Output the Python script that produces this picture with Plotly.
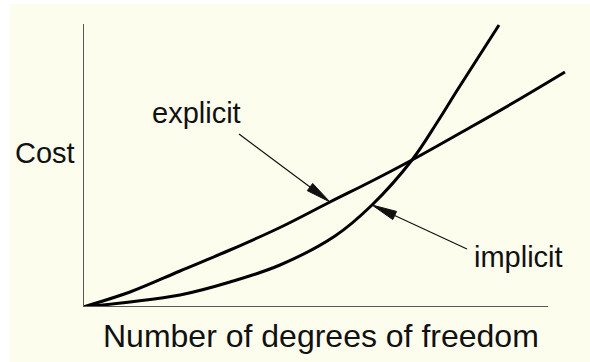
import math
import plotly.graph_objects as go

# ---- data ----
dof_explicit = [0, 4.7, 9.7, 14.7, 19.7, 24.7, 28.9, 32.9, 38.7, 43.5, 48.2]
cost_explicit = [0, 1.5, 3.6, 5.7, 7.95, 10.5, 12.6, 14.7, 17.95, 20.7, 23.5]
dof_implicit = [0, 4.7, 9.7, 14.7, 19.7, 25.2, 28.9, 32.9, 35.5, 37.5, 41.6]
cost_implicit = [0, 0.5, 1.2, 2.5, 4.2, 7.1, 10.2, 14.7, 18.6, 21.8, 28.2]

labels = ["explicit", "implicit"]
label_pos = [(11.3, 19.4), (43.5, 5.0)]
arrow_tail = [(15.6, 17.3), (38.4, 5.8)]
arrow_tip = [(24.7, 10.5), (28.9, 10.2)]

x_title = "Number of degrees of freedom"
y_title = "Cost"
x_title_pos = (23.8, -2.9)
y_title_pos = (-3.8, 15.4)

# ---- layout constants ----
W, H = 590, 362
ML, MR, MT, MB = 83, 0, 10, 55
XR = [0, 50.7]
YR = [0, 29.7]
x_axis_end = 46.5
y_axis_end = 28.3
FONT = "Liberation Sans, Arial, Helvetica, sans-serif"
CREAM = "#FDFDEE"
INK = "#111111"
TEXT = "#111111"
AXIS = "#585858"

kx = (W - ML - MR) / (XR[1] - XR[0])
ky = (H - MT - MB) / (YR[1] - YR[0])


def to_paper(x, y):
    return (x - XR[0]) / (XR[1] - XR[0]), (y - YR[0]) / (YR[1] - YR[0])


fig = go.Figure()
for xs, ys in [(dof_explicit, cost_explicit), (dof_implicit, cost_implicit)]:
    fig.add_trace(go.Scatter(x=xs, y=ys, mode="lines",
                             line=dict(color="black", width=3, shape="spline", smoothing=1.0),
                             hoverinfo="skip", showlegend=False))

shapes = []
# cream background panel (white border at left and top)
shapes.append(dict(type="rect", xref="paper", yref="paper",
                   x0=(10 - ML) / (W - ML - MR), x1=1.05,
                   y0=-0.3, y1=1 + (MT - 4) / (H - MT - MB),
                   fillcolor=CREAM, line=dict(width=0), layer="below"))
# axes
shapes.append(dict(type="line", xref="x", yref="y", x0=0, x1=x_axis_end, y0=0, y1=0,
                   line=dict(color=AXIS, width=2)))
shapes.append(dict(type="line", xref="x", yref="y", x0=0, x1=0, y0=0, y1=y_axis_end,
                   line=dict(color=AXIS, width=2)))

# arrows: thin shaft + long narrow filled head
HEAD_L, HEAD_HW = 25, 4.5
for (sx, sy), (tx, ty) in zip(arrow_tail, arrow_tip):
    dx, dy = (tx - sx) * kx, (ty - sy) * ky
    n = math.hypot(dx, dy)
    ux, uy = dx / n, dy / n
    bx, by = tx * kx - ux * HEAD_L, ty * ky - uy * HEAD_L
    p1 = ((bx - uy * HEAD_HW) / kx, (by + ux * HEAD_HW) / ky)
    p2 = ((bx + uy * HEAD_HW) / kx, (by - ux * HEAD_HW) / ky)
    shapes.append(dict(type="line", xref="x", yref="y", x0=sx, y0=sy,
                       x1=bx / kx, y1=by / ky, line=dict(color=INK, width=1.2)))
    path = f"M {tx},{ty} L {p1[0]},{p1[1]} L {p2[0]},{p2[1]} Z"
    shapes.append(dict(type="path", xref="x", yref="y", path=path,
                       fillcolor=INK, line=dict(color=INK, width=1)))

annotations = []
texts = [(t, p, 29) for t, p in zip(labels, label_pos)]
texts += [(y_title, y_title_pos, 29), (x_title, x_title_pos, 32)]
for txt, (lx, ly), size in texts:
    px_, py_ = to_paper(lx, ly)
    annotations.append(dict(x=px_, y=py_, xref="paper", yref="paper", text=txt,
                            showarrow=False,
                            font=dict(family=FONT, size=size, color=TEXT),
                            xanchor="center", yanchor="middle"))

fig.update_layout(
    width=W, height=H, autosize=False,
    margin=dict(l=ML, r=MR, t=MT, b=MB, pad=0),
    paper_bgcolor="white", plot_bgcolor="rgba(0,0,0,0)",
    xaxis=dict(range=XR, visible=False, fixedrange=True),
    yaxis=dict(range=YR, visible=False, fixedrange=True),
    shapes=shapes, annotations=annotations, showlegend=False,
)

fig.write_html("out.html", config={"displayModeBar": False},
               post_script="document.body.style.margin='0';document.body.style.padding='0';")
